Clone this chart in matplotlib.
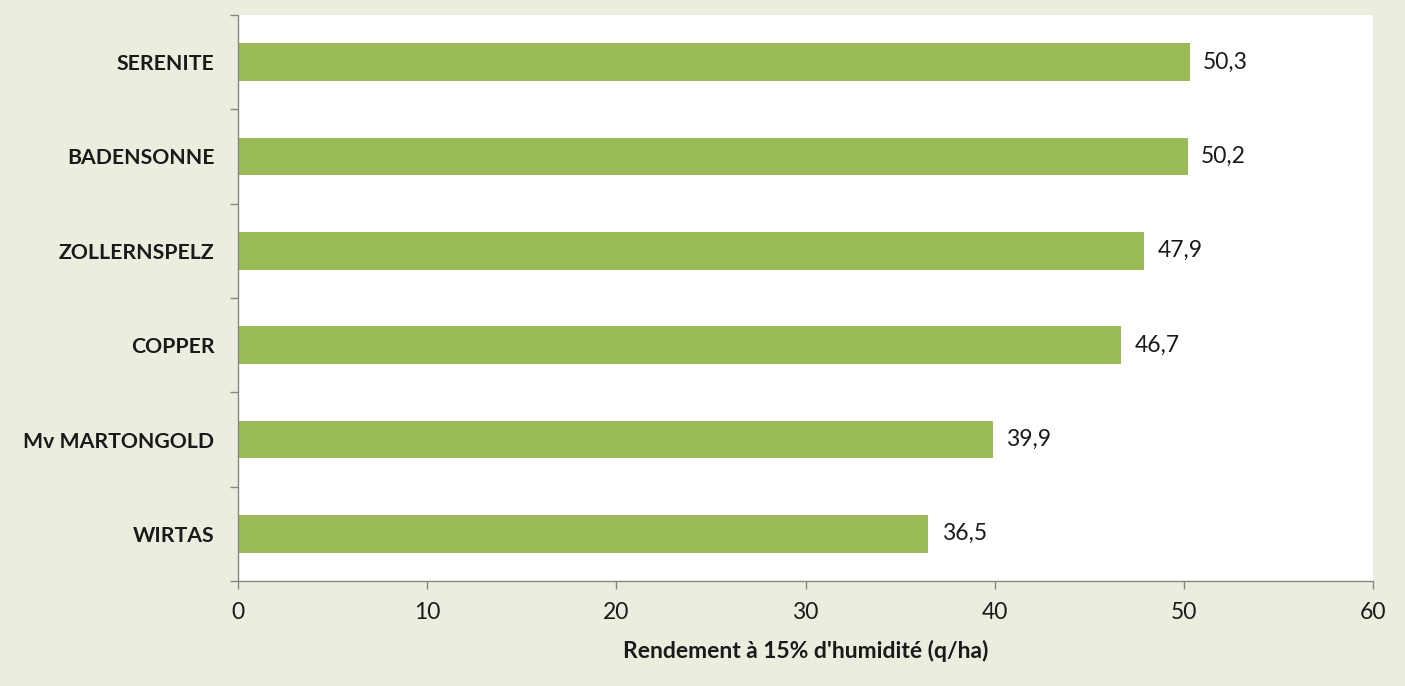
import matplotlib
matplotlib.use("Agg")
import matplotlib.pyplot as plt
from matplotlib.ticker import FixedLocator

# Data (top to bottom as shown)
varieties = ["SERENITE", "BADENSONNE", "ZOLLERNSPELZ", "COPPER", "Mv MARTONGOLD", "WIRTAS"]
yields = [50.3, 50.2, 47.9, 46.7, 39.9, 36.5]
x_ticks = [0, 10, 20, 30, 40, 50, 60]

BG = "#EBEEDF"
BAR = "#9BBB59"
AXIS = "#868686"
TXT = "#1A1A1A"

plt.rcParams["font.family"] = ["Lato", "DejaVu Sans"]

fig = plt.figure(figsize=(14.05, 6.86), dpi=100, facecolor=BG)
ax = fig.add_axes([238 / 1405, 1 - 581 / 686, (1373 - 238) / 1405, (581 - 15) / 686])
ax.set_facecolor("white")

pos = list(range(len(varieties)))[::-1]
bars = ax.barh(pos, yields, height=0.4, color=BAR, edgecolor="none")

for p, v in zip(pos, yields):
    ax.text(v + 0.72, p, f"{v:.1f}".replace(".", ","), va="center", ha="left",
            fontsize=16.5, color=TXT)

ax.set_xlim(0, 60)
ax.set_ylim(-0.5, len(varieties) - 0.5)
ax.set_xticks(x_ticks)
ax.set_xticklabels([str(t) for t in x_ticks], fontsize=16.5, color=TXT)
ax.set_yticks(pos)
ax.set_yticklabels(varieties, fontsize=15.3, fontweight="bold", color=TXT)
ax.yaxis.set_minor_locator(FixedLocator([i - 0.5 for i in range(len(varieties) + 1)]))

ax.tick_params(axis="y", which="major", length=0, pad=17)
ax.tick_params(axis="y", which="minor", length=6, color=AXIS, width=1)
ax.tick_params(axis="x", which="major", length=6, color=AXIS, width=1, pad=9)

for s in ["top", "right"]:
    ax.spines[s].set_visible(False)
for s in ["left", "bottom"]:
    ax.spines[s].set_color(AXIS)
    ax.spines[s].set_linewidth(1)

ax.set_xlabel("Rendement à 15% d'humidité (q/ha)", fontsize=16.5, fontweight="bold",
              color=TXT, labelpad=12)

fig.savefig("out.png", dpi=100, facecolor=BG)
